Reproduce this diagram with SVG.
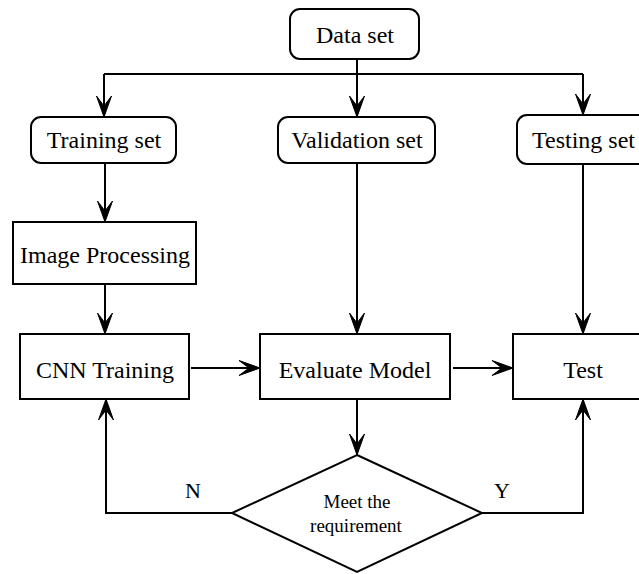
<svg xmlns="http://www.w3.org/2000/svg" width="639" height="574" viewBox="0 0 639 574">
<defs>
<marker id="arr" markerUnits="userSpaceOnUse" markerWidth="24" markerHeight="18" viewBox="-22 -9 24 18" refX="0" refY="0" orient="auto">
<path d="M0,0 L-21,-7.5 L-11,0 L-21,7.5 Z" fill="#000" stroke="#000" stroke-width="1" stroke-linejoin="miter"/>
</marker>
</defs>
<style>
.box{fill:#fff;stroke:#000;stroke-width:2}
.t{font-family:"Liberation Serif","Times New Roman",serif;font-size:24px;fill:#000;text-anchor:middle}
.s{font-family:"Liberation Serif","Times New Roman",serif;font-size:19px;fill:#000;text-anchor:middle}
.c{fill:none;stroke:#000;stroke-width:2}
.a{marker-end:url(#arr)}
</style>
<rect width="639" height="574" fill="#fff"/>
<g id="connectors">
<path class="c" d="M104,74 H583"/>
<path class="c a" d="M357,59 V117"/>
<path class="c a" d="M104,74 V117"/>
<path class="c a" d="M583,74 V115"/>
<path class="c a" d="M105,164 V222"/>
<path class="c a" d="M105,284 V334"/>
<path class="c a" d="M191,368 H260"/>
<path class="c a" d="M357,163 V334"/>
<path class="c a" d="M453,368 H513"/>
<path class="c a" d="M583,164 V334"/>
<path class="c a" d="M357,399 V455"/>
<path class="c a" d="M232,513 H106 V399"/>
<path class="c a" d="M482,513 H583 V399"/>
<text class="t" x="193" y="498" style="font-size:22px">N</text>
<text class="t" x="502" y="498" style="font-size:22px">Y</text>
</g>
<g id="data-set">
<rect class="box" x="290" y="9" width="129" height="50" rx="10"/>
<text class="t" x="355" y="43">Data set</text>
</g>
<g id="training-set">
<rect class="box" x="31" y="117" width="145" height="46" rx="10"/>
<text class="t" x="104" y="148">Training set</text>
</g>
<g id="validation-set">
<rect class="box" x="278" y="117" width="157" height="46" rx="10"/>
<text class="t" x="357" y="148">Validation set</text>
</g>
<g id="testing-set">
<rect class="box" x="517" y="115" width="135" height="49" rx="10"/>
<text class="t" x="532" y="148" style="text-anchor:start">Testing set</text>
</g>
<g id="image-processing">
<rect class="box" x="13" y="222" width="183" height="62"/>
<text class="t" x="105" y="263">Image Processing</text>
</g>
<g id="cnn-training">
<rect class="box" x="20" y="334" width="169" height="65"/>
<text class="t" x="105" y="378">CNN Training</text>
</g>
<g id="evaluate-model">
<rect class="box" x="260" y="334" width="190" height="65"/>
<text class="t" x="355" y="378">Evaluate Model</text>
</g>
<g id="test">
<rect class="box" x="513" y="334" width="140" height="65"/>
<text class="t" x="583" y="378">Test</text>
</g>
<g id="meet-requirement">
<polygon class="box" points="357,455 482,513 357,572 232,513"/>
<text class="s" x="357" y="508">Meet the</text>
<text class="s" x="356" y="532">requirement</text>
</g>
</svg>
